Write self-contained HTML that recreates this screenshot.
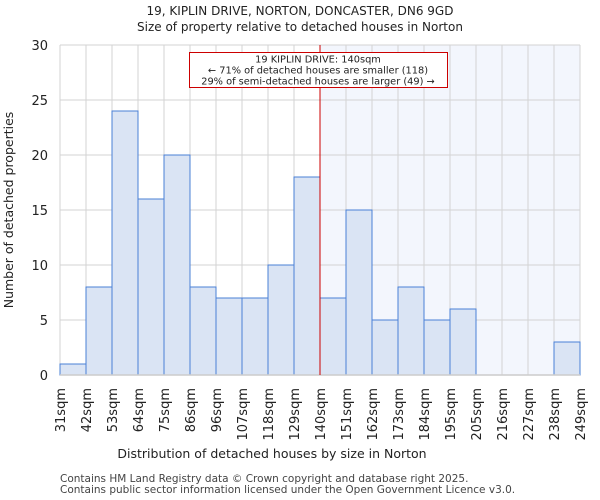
<!DOCTYPE html>
<html><head><meta charset="utf-8"><style>
body{margin:0;background:#fff;}
svg{display:block;font-family:"DejaVu Sans","Liberation Sans",sans-serif;}
</style></head><body>
<svg id="chart" width="600" height="500">
<text x="300" y="15" text-anchor="middle" font-size="12" fill="#222">19, KIPLIN DRIVE, NORTON, DONCASTER, DN6 9GD</text>
<text x="300" y="31" text-anchor="middle" font-size="12" fill="#222">Size of property relative to detached houses in Norton</text>
<g id="plot"></g>
<text x="272" y="458" text-anchor="middle" font-size="12.5" fill="#222">Distribution of detached houses by size in Norton</text>
<text transform="translate(13,210) rotate(-90)" text-anchor="middle" font-size="12.5" fill="#222">Number of detached properties</text>
<text x="60" y="482" font-size="10.5" fill="#444">Contains HM Land Registry data © Crown copyright and database right 2025.</text>
<text x="60" y="493" font-size="10.5" fill="#444">Contains public sector information licensed under the Open Government Licence v3.0.</text>
</svg>
<script>
const binLabels=["31sqm","42sqm","53sqm","64sqm","75sqm","86sqm","96sqm","107sqm","118sqm","129sqm","140sqm","151sqm","162sqm","173sqm","184sqm","195sqm","205sqm","216sqm","227sqm","238sqm","249sqm"];
const counts=[1,8,24,16,20,8,7,7,10,18,7,15,5,8,5,6,0,0,0,3];
const yTicks=[0,5,10,15,20,25,30];
const markerIndex=10;
const annotation=["19 KIPLIN DRIVE: 140sqm","← 71% of detached houses are smaller (118)","29% of semi-detached houses are larger (49) →"];

const NS="http://www.w3.org/2000/svg";
const g=document.getElementById('plot');
const X0=60,X1=580,Y0=375,Y1=45,YMAX=30;
const bw=(X1-X0)/counts.length;
const xs=i=>X0+i*bw;
const ys=v=>Y0-(v/YMAX)*(Y0-Y1);
function el(t,a){const e=document.createElementNS(NS,t);for(const k in a)e.setAttribute(k,a[k]);g.appendChild(e);return e;}

const hl=el('rect',{x:xs(markerIndex),y:Y1,width:X1-xs(markerIndex),height:Y0-Y1,fill:'#f3f6fd'});


for(let i=0;i<=counts.length;i++){
  const l=el('line',{x1:xs(i),x2:xs(i),y1:Y1,y2:Y0,stroke:'#d3d3d3','stroke-width':1});
  
  
}
yTicks.forEach(t=>{
  const l=el('line',{x1:X0,x2:X1,y1:ys(t),y2:ys(t),stroke:'#d3d3d3','stroke-width':1});
  
  
  const tx=el('text',{x:X0-12,y:ys(t)+5,'text-anchor':'end','font-size':13,fill:'#222'});
  tx.textContent=t;
  
  
});
counts.forEach((c,i)=>{
  if(c<=0)return;
  const r=el('rect',{x:xs(i),y:ys(c),width:bw,height:Y0-ys(c),fill:'#dae4f4',stroke:'#4a80d6','stroke-width':1});
  
  
});
const ax=el('line',{x1:X0,x2:X1,y1:Y0,y2:Y0,stroke:'#ccc','stroke-width':1.5});


binLabels.forEach((lab,i)=>{
  const tx=el('text',{transform:`translate(${xs(i)+5},388) rotate(-90)`,'text-anchor':'end','font-size':13,fill:'#222'});
  tx.textContent=lab;
  
  
});
const ml=el('line',{x1:xs(markerIndex),x2:xs(markerIndex),y1:Y1,y2:Y0,stroke:'#cc0000','stroke-width':1});


const box=el('rect',{x:189.5,y:52.5,width:258,height:35,fill:'#fff',stroke:'#cc0000','stroke-width':1});


annotation.forEach((s,i)=>{
  const tx=el('text',{x:318,y:62.5+i*11,'text-anchor':'middle','font-size':9.8,fill:'#222'});
  tx.textContent=s;
  
  
});
</script>
</body></html>
